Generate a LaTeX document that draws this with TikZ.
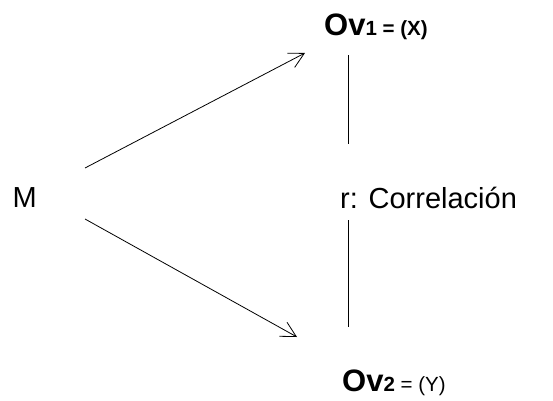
\documentclass[tikz,border=0pt]{standalone}
\usepackage{fontspec}
\setmainfont{Liberation Sans}
\usetikzlibrary{arrows.meta}
\begin{document}
\begin{tikzpicture}[x=1pt,y=1pt,
  lbl/.style={inner sep=0pt, anchor=base west, font=\fontsize{29}{31}\selectfont},
  ovlbl/.style={inner sep=0pt, anchor=base west, font=\fontsize{31}{33}\selectfont\bfseries},
  arr/.style={-{Straight Barb[length=15pt,width=16pt,line width=0.8pt]}, line width=0.8pt},
  ln/.style={line width=0.8pt}]
\useasboundingbox (0,0) rectangle (553,400);
\node[lbl] (M) at (12.5,192.5) {M};
\node[lbl] (r) at (340,192) {r: Correlación};
\node[ovlbl] (ov1) at (324,364.5) {Ov{\fontsize{20.5}{22}\selectfont 1 = (X)}};
\node[ovlbl] (ov2) at (342,8.5) {Ov{\fontsize{20.5}{22}\selectfont 2\mdseries{} = (Y)}};
\coordinate (a1) at (85,232);
\coordinate (a1e) at (305,347);
\coordinate (a2) at (85,181);
\coordinate (a2e) at (297,63);
\coordinate (v1) at (348,345);
\coordinate (v1e) at (348,256);
\coordinate (v2) at (348,180);
\coordinate (v2e) at (348,73);
\draw[arr] (a1) -- (a1e);
\draw[arr] (a2) -- (a2e);
\draw[ln] (v1) -- (v1e);
\draw[ln] (v2) -- (v2e);
\end{tikzpicture}
\end{document}
